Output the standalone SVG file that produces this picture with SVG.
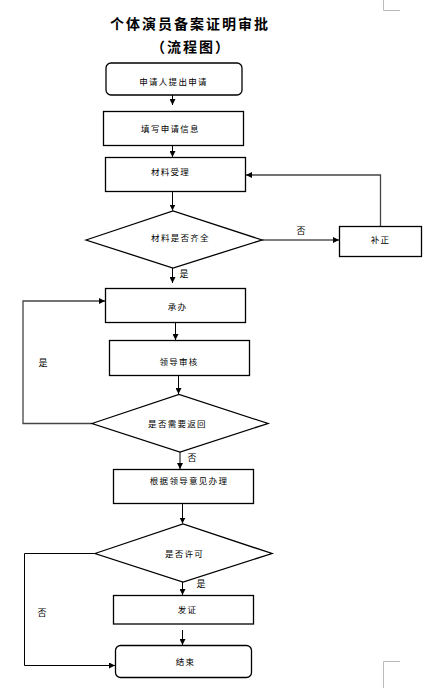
<svg xmlns="http://www.w3.org/2000/svg" width="423" height="688" viewBox="0 0 423 688">
<defs>
<marker id="ah" markerUnits="userSpaceOnUse" markerWidth="7" markerHeight="6" refX="6" refY="3" orient="auto">
<path d="M0,0 L6,3 L0,6 z" fill="#000"/>
</marker>
<style>
.box{fill:#fff;stroke:#000;stroke-width:1.3}
.t{font-family:"Noto Sans CJK SC","Liberation Sans",sans-serif;font-size:8.5px;letter-spacing:1.3px;text-anchor:middle;dominant-baseline:central;fill:#000}
.lbl{font-family:"Noto Sans CJK SC","Liberation Sans",sans-serif;font-size:9px;text-anchor:middle;dominant-baseline:central;fill:#000}
.title{font-family:"Noto Sans CJK SC","Liberation Sans",sans-serif;font-size:14px;font-weight:bold;letter-spacing:2px;text-anchor:middle;dominant-baseline:central;fill:#000}
.c{fill:none;stroke:#000;stroke-width:1;marker-end:url(#ah)}
.cg{fill:none;stroke:#444;stroke-width:1.3;marker-end:url(#ah)}
.mark{fill:none;stroke:#bbb;stroke-width:1}
</style>
</defs>
<rect width="423" height="688" fill="#fff"/>
<g id="title">
<text class="title" x="190" y="23">个体演员备案证明审批</text>
<text class="title" x="191" y="46">（流程图）</text>
</g>
<g id="marks">
<path class="mark" d="M383.5,0 V10.5 H400"/>
<path class="mark" d="M383.5,688 V661.5 H400"/>
</g>
<g id="connectors">
<path class="c" d="M172.5,95 V105"/>
<path class="c" d="M172.5,146 V157"/>
<path class="c" d="M172.5,191.5 V210.5"/>
<path class="c" d="M262,240 H339"/>
<path class="cg" d="M380.5,226 V175 H246"/>
<path class="c" d="M172.5,268 V283"/>
<path class="c" d="M175.5,322.5 V340"/>
<path class="c" d="M178.5,375.5 V394"/>
<path class="cg" d="M92,423.5 H23 V301 H105"/>
<path class="c" d="M180,452 V469"/>
<path class="c" d="M182.5,503.5 V523.5"/>
<path class="c" d="M95,553.5 H24.5 V665.5 H115"/>
<path class="c" d="M182.5,582 V595"/>
<path class="c" d="M182.5,630 V645"/>
</g>
<g id="labels">
<text class="lbl" x="301" y="230">否</text>
<text class="lbl" x="184" y="273">是</text>
<text class="lbl" x="43" y="362">是</text>
<text class="lbl" x="192" y="457">否</text>
<text class="lbl" x="42" y="612">否</text>
<text class="lbl" x="201" y="583">是</text>
</g>
<g id="n-start">
<rect class="box" x="106" y="63" width="136" height="32" rx="5"/>
<text class="t" x="173.5" y="80.5">申请人提出申请</text>
</g>
<g id="n-fill">
<rect class="box" x="103.5" y="111.5" width="140" height="34"/>
<text class="t" x="170.5" y="128">填写申请信息</text>
</g>
<g id="n-accept">
<rect class="box" x="105.5" y="157.5" width="140" height="34"/>
<text class="t" x="170.5" y="171">材料受理</text>
</g>
<g id="n-check">
<polygon class="box" points="86,240 173,211 262,240 173,268"/>
<text class="t" x="180.5" y="237">材料是否齐全</text>
</g>
<g id="n-fix">
<rect class="box" x="339.5" y="226.5" width="82" height="30"/>
<text class="t" x="380.5" y="239">补正</text>
</g>
<g id="n-handle">
<rect class="box" x="105.5" y="288.5" width="140" height="34"/>
<text class="t" x="177.5" y="306">承办</text>
</g>
<g id="n-review">
<rect class="box" x="109.5" y="340.5" width="140" height="35"/>
<text class="t" x="179" y="361">领导审核</text>
</g>
<g id="n-return">
<polygon class="box" points="92,423.5 179,394.5 268,423.5 180,452"/>
<text class="t" x="177.5" y="423">是否需要返回</text>
</g>
<g id="n-process">
<rect class="box" x="113.5" y="469.5" width="140" height="34"/>
<text class="t" x="189" y="480">根据领导意见办理</text>
</g>
<g id="n-permit">
<polygon class="box" points="95,553.5 183,524 272,553.5 183,582"/>
<text class="t" x="184.5" y="552.5">是否许可</text>
</g>
<g id="n-issue">
<rect class="box" x="113.5" y="595.5" width="140" height="28.5"/>
<text class="t" x="187.5" y="608.5">发证</text>
</g>
<g id="n-end">
<rect class="box" x="115.5" y="645.5" width="136" height="32" rx="5"/>
<text class="t" x="185.5" y="661">结束</text>
</g>
</svg>
